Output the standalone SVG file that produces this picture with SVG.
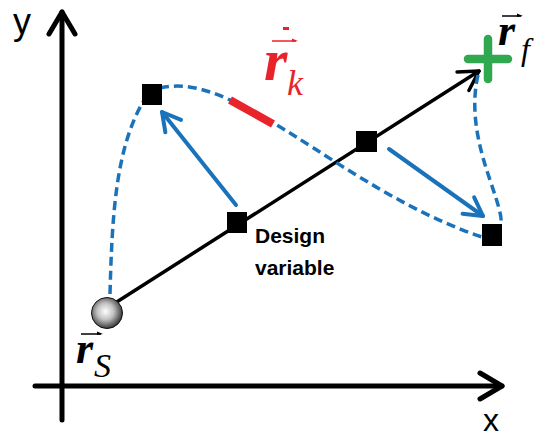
<svg xmlns="http://www.w3.org/2000/svg" width="537" height="439" viewBox="0 0 537 439">
<style>
.axis{stroke:#000;stroke-width:5;fill:none;stroke-linecap:round}
.main{stroke:#000;stroke-width:3.5;fill:none;stroke-linecap:round}
.dash{stroke:#1a73ba;stroke-width:3.5;fill:none;stroke-dasharray:9 5}
.barrow{stroke:#1a73ba;stroke-width:4;fill:none;stroke-linecap:round}
.sq{fill:#000}
.lbl{font-family:"Liberation Serif","Times New Roman",serif;font-style:italic}
.sans{font-family:"Liberation Sans",Arial,sans-serif}
</style>
<defs>
<marker id="axHead" markerUnits="userSpaceOnUse" markerWidth="60" markerHeight="60" refX="0" refY="0" orient="auto" overflow="visible">
<path d="M-22,-13 L0,0 L-22,13" fill="none" stroke="#000" stroke-width="5" stroke-linecap="round" stroke-linejoin="round"/>
</marker>
<marker id="lnHead" markerUnits="userSpaceOnUse" markerWidth="60" markerHeight="60" refX="0" refY="0" orient="auto" overflow="visible">
<path d="M-19,-11 L0,0 L-19,11" fill="none" stroke="#000" stroke-width="3.5" stroke-linecap="round" stroke-linejoin="round"/>
</marker>
<marker id="blHead" markerUnits="userSpaceOnUse" markerWidth="60" markerHeight="60" refX="0" refY="0" orient="auto" overflow="visible">
<path d="M-18,-10 L0,0 L-18,10" fill="none" stroke="#1a73ba" stroke-width="4" stroke-linecap="round" stroke-linejoin="round"/>
</marker>
<radialGradient id="ball" cx="0.45" cy="0.45" r="0.6">
<stop offset="0" stop-color="#ffffff"/>
<stop offset="0.45" stop-color="#c0c0c0"/>
<stop offset="1" stop-color="#222222"/>
</radialGradient>
</defs>
<rect width="537" height="439" fill="#fff"/>
<g id="connectors">
<path class="axis" d="M62,420 L62,12" marker-end="url(#axHead)"/>
<path class="axis" d="M35,386 L502,386" marker-end="url(#axHead)"/>
<path class="main" d="M112,305 L479,71" marker-end="url(#lnHead)"/>
<path class="dash" d="M110,294 C112,220 115,150 143,102"/>
<path class="dash" d="M160,88 C195,80 230,98 275,124 S400,210 482,237"/>
<path class="dash" d="M478,75 C470,110 478,145 490,180 C500,210 504,222 499,228"/>
<line x1="230" y1="100" x2="273" y2="124" stroke="#e8232a" stroke-width="8"/>
<path class="barrow" d="M236,205 L162,112" marker-end="url(#blHead)"/>
<path class="barrow" d="M389,149 L483,216" marker-end="url(#blHead)"/>
</g>
<g id="start">
<circle cx="107" cy="313" r="15.5" fill="url(#ball)" stroke="#111" stroke-width="1"/>
</g>
<g id="target">
<path d="M488,39 L488,79 M468,59 L508,59" stroke="#2fa84f" stroke-width="8.5" stroke-linecap="round"/>
</g>
<g id="dv1"><rect class="sq" x="142" y="84" width="20" height="21"/></g>
<g id="dv2"><rect class="sq" x="227" y="212" width="20" height="21"/></g>
<g id="dv3"><rect class="sq" x="356" y="131" width="21" height="21"/></g>
<g id="dv4"><rect class="sq" x="482" y="224" width="20" height="22"/></g>
<g id="label-y"><text class="sans" x="13" y="34" font-size="36">y</text></g>
<g id="label-x"><text class="sans" x="483" y="431" font-size="32">x</text></g>
<g id="label-rk" fill="#e8232a">
<text class="lbl" x="264" y="80" font-size="60" font-weight="bold">r</text>
<text class="lbl" x="287" y="95" font-size="36">k</text>
<line x1="272" y1="41" x2="296" y2="41" stroke="#e8232a" stroke-width="1.5"/>
<path d="M292,38.5 L298,41 L292,42" fill="#e8232a"/>
<rect x="283" y="27" width="6" height="3" fill="#e8232a"/>
</g>
<g id="label-rf">
<text class="lbl" x="498" y="45" font-size="44" font-weight="bold">r</text>
<text class="lbl" x="521" y="60" font-size="32">f</text>
<line x1="502" y1="16" x2="521" y2="16" stroke="#000" stroke-width="1.5"/>
<path d="M517,13.5 L523,16 L517,17" fill="#000"/>
</g>
<g id="label-rs">
<text class="lbl" x="76" y="363" font-size="44" font-weight="bold">r</text>
<text class="lbl" x="94" y="377" font-size="34">S</text>
<line x1="81" y1="334" x2="101" y2="334" stroke="#000" stroke-width="1.5"/>
<path d="M97,331.5 L103,334 L97,335" fill="#000"/>
</g>
<g id="label-dv">
<text class="sans" x="255" y="243" font-size="21" font-weight="bold">Design</text>
<text class="sans" x="255" y="275" font-size="21" font-weight="bold">variable</text>
</g>
</svg>
